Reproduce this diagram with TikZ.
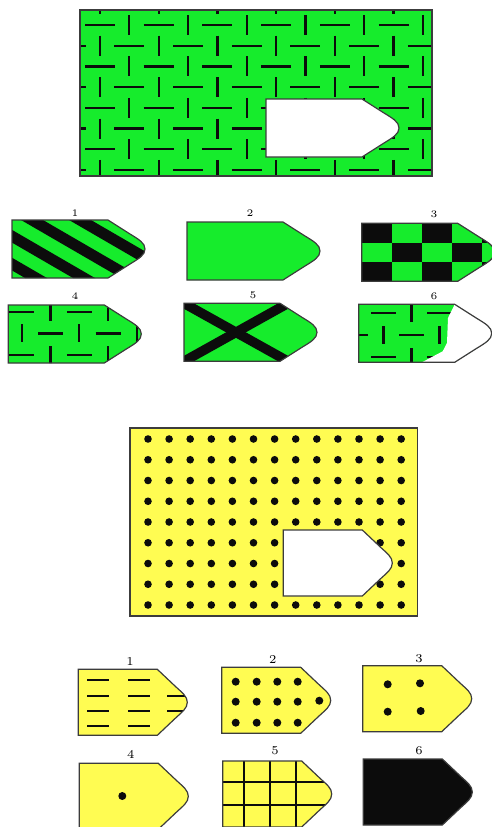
\documentclass[tikz,border=0pt]{standalone}
\usepackage{tikz}
\definecolor{gr}{RGB}{22,236,44}
\definecolor{yl}{RGB}{255,252,82}
\definecolor{edge}{RGB}{60,60,60}
\definecolor{ink}{RGB}{12,12,12}
\tikzset{
  outline/.style={draw=edge,line width=0.6pt},
  wdash/.style={draw=ink,line width=1.1pt},
  ydash/.style={draw=ink,line width=1pt},
  lbl/.style={font=\fontsize{5}{6}\selectfont,inner sep=0pt},
  ylbl/.style={font=\fontsize{6}{7}\selectfont,inner sep=0pt},
}
\def\gtag{(0,0) -- (96,0) -- (118,14) .. controls (127,19.5) and (133,23) .. (133,29) .. controls (133,35) and (127,38.5) .. (118,44) -- (96,58) -- (0,58) -- cycle}
\def\ytag{(0,0) -- (79,0) -- (97,17) .. controls (104,23.5) and (109,27) .. (109,33) .. controls (109,39) and (104,42.5) .. (97,49) -- (79,66) -- (0,66) -- cycle}
% basketweave: origin x, origin y, pitch x, pitch y, h length, v length
\newcommand\weave[6]{%
  \foreach \wi in {-1,...,10}{\foreach \wj in {-2,...,13}{%
    \pgfmathtruncatemacro\wpar{mod(\wi+\wj+40,2)}%
    \ifnum\wpar=0
      \draw[wdash] ({#1+#3*\wj-#5/2},{#2+#4*\wi}) -- ++(#5,0);
    \else
      \draw[wdash] ({#1+#3*\wj},{#2+#4*\wi-#6/2}) -- ++(0,#6);
    \fi}}}
\begin{document}
\begin{tikzpicture}[x=0.5pt,y=-0.5pt]
\path[use as bounding box] (0,0) rectangle (492,827);

% ---------- main green board ----------
\fill[gr] (80,10) rectangle (432,176);
\begin{scope}
  \clip (80,10) rectangle (432,176);
  \weave{100}{25}{29.35}{20.7}{30}{20}
\end{scope}
\draw[outline] (80,10) rectangle (432,176);
\begin{scope}[shift={(266,99)}]
  \filldraw[fill=white,outline] \gtag;
\end{scope}

% ---------- green options ----------
% 1 stripes
\begin{scope}[shift={(12,220)}]
  \fill[gr] \gtag;
  \begin{scope}
    \clip \gtag;
    \foreach \k in {-3,...,3}{\draw[ink,line width=5.5pt] ({20+48*\k-100},-58) -- ++(300,174);}
  \end{scope}
  \draw[outline] \gtag;
\end{scope}
% 2 plain
\begin{scope}[shift={(187,222)}]
  \filldraw[fill=gr,outline] \gtag;
\end{scope}
% 3 checker
\begin{scope}[shift={(361.7,223.3)}]
  \fill[gr] \gtag;
  \begin{scope}
    \clip \gtag;
    \foreach \r in {0,1,2}{\foreach \c in {0,...,4}{%
      \pgfmathtruncatemacro\cpar{mod(\r+\c,2)}%
      \ifnum\cpar=0 \fill[ink] ({30*\c},{19.43*\r}) rectangle ++(30,19.43); \fi}}
  \end{scope}
  \draw[outline] \gtag;
\end{scope}
% 4 weave
\begin{scope}[shift={(8.3,305)}]
  \fill[gr] \gtag;
  \begin{scope}
    \clip \gtag;
    \weave{13.4}{6.7}{28.8}{21.7}{25}{18}
  \end{scope}
  \draw[outline] \gtag;
\end{scope}
% 5 cross
\begin{scope}[shift={(184,303.3)}]
  \fill[gr] \gtag;
  \begin{scope}
    \clip \gtag;
    \draw[ink,line width=4.8pt] (0,0) -- (104,58);
    \draw[ink,line width=4.8pt] (0,58) -- (104,0);
  \end{scope}
  \draw[outline] \gtag;
\end{scope}
% 6 weave with white part
\begin{scope}[shift={(358.7,304.3)}]
  \fill[gr] \gtag;
  \begin{scope}
    \clip \gtag;
    \weave{24.8}{8.7}{28}{22}{25}{18}
    \clip (97,-5) -- (96,0) -- (89.3,13.7) -- (88.3,38.7) -- (84,47) -- (61.3,59) -- (61.3,65) -- (150,65) -- (150,-5) -- cycle;
    \fill[white] (0,-5) rectangle (150,65);
  \end{scope}
  \draw[outline] \gtag;
\end{scope}

\node[lbl] (g1) at (75,213) {1};
\node[lbl] (g2) at (250,213) {2};
\node[lbl] (g3) at (434,214) {3};
\node[lbl] (g4) at (75,296) {4};
\node[lbl] (g5) at (253,295) {5};
\node[lbl] (g6) at (434,296) {6};

% ---------- main yellow board ----------
\fill[yl] (130,428) rectangle (417.7,616);
\foreach \i in {0,...,8}{\foreach \j in {0,...,12}{%
  \fill[ink] ({148+21.1*\j},{439+20.75*\i}) circle (3.8);}}
\draw[outline] (130,428) rectangle (417.7,616);
\begin{scope}[shift={(283.3,530)}]
  \filldraw[fill=white,outline] \ytag;
\end{scope}

% ---------- yellow options ----------
% 1 dashes
\begin{scope}[shift={(78.3,669.3)}]
  \fill[yl] \ytag;
  \begin{scope}
    \clip \ytag;
    \foreach \yy in {10.7,26.7,41.4,56.4}{%
      \draw[ydash] (9,\yy) -- (31,\yy);
      \draw[ydash] (50,\yy) -- (71.7,\yy);}
    \foreach \yy in {26.7,41.4}{\draw[ydash] (89,\yy) -- (115,\yy);}
  \end{scope}
  \draw[outline] \ytag;
\end{scope}
% 2 many dots
\begin{scope}[shift={(221.7,667.3)}]
  \fill[yl] \ytag;
  \foreach \yy in {14.4,34.4,55.4}{\foreach \xx in {14,35,55.6,76}{%
    \fill[ink] (\xx,\yy) circle (4);}}
  \fill[ink] (97.6,33.4) circle (4);
  \draw[outline] \ytag;
\end{scope}
% 3 four dots
\begin{scope}[shift={(362.7,665.7)}]
  \fill[yl] \ytag;
  \foreach \p in {(25,18.6),(57.3,17.6),(25,46),(58,45.3)}{\fill[ink] \p circle (4);}
  \draw[outline] \ytag;
\end{scope}
% 4 one dot
\begin{scope}[shift={(79.3,763.3)}]
  \fill[yl] \ytag;
  \fill[ink] (43,32.7) circle (4);
  \draw[outline] \ytag;
\end{scope}
% 5 grid
\begin{scope}[shift={(222.7,761)}]
  \fill[yl] \ytag;
  \begin{scope}
    \clip \ytag;
    \foreach \xx in {21.3,47.3,73}{\draw[ink,line width=0.8pt] (\xx,0) -- (\xx,66);}
    \foreach \yy in {20.7,44}{\draw[ink,line width=0.8pt] (0,\yy) -- (115,\yy);}
  \end{scope}
  \draw[outline] \ytag;
\end{scope}
% 6 black
\begin{scope}[shift={(363.3,759)}]
  \filldraw[fill=ink,outline] \ytag;
\end{scope}

\node[ylbl] (y1) at (130,661.7) {1};
\node[ylbl] (y2) at (272.7,659.3) {2};
\node[ylbl] (y3) at (419,658.3) {3};
\node[ylbl] (y4) at (130.7,754.3) {4};
\node[ylbl] (y5) at (275,751) {5};
\node[ylbl] (y6) at (419,751) {6};
\end{tikzpicture}
\end{document}
